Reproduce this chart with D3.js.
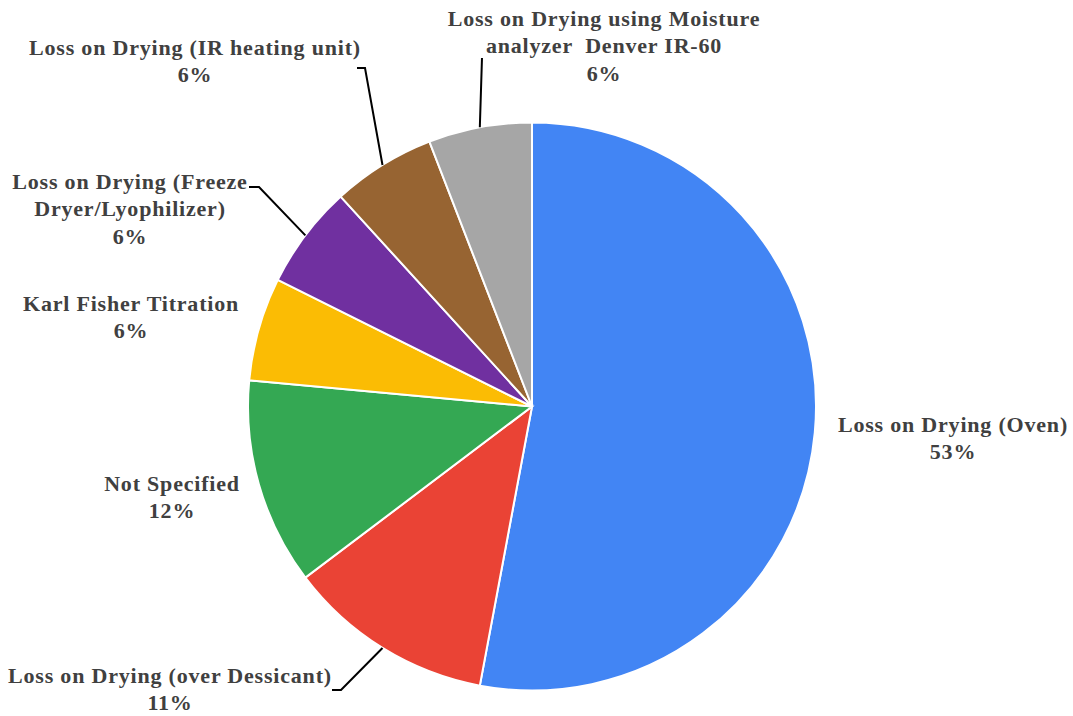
<!DOCTYPE html>
<html>
<head>
<meta charset="utf-8">
<script src="https://cdn.jsdelivr.net/npm/d3@7"></script>
<style>
  body { margin: 0; background: #fff; }
</style>
</head>
<body>
<div id="chart"></div>
<script>
// Datos
const categories = [
  "Loss on Drying (Oven)",
  "Loss on Drying (over Dessicant)",
  "Not Specified",
  "Karl Fisher Titration",
  "Loss on Drying (Freeze Dryer/Lyophilizer)",
  "Loss on Drying (IR heating unit)",
  "Loss on Drying using Moisture analyzer  Denver IR-60"
]
const counts = [9, 2, 2, 1, 1, 1, 1]
const pctLabels = ["53%", "11%", "12%", "6%", "6%", "6%", "6%"]
const colors = ["#4285f4", "#ea4335", "#34a853", "#fbbc04", "#7030a0", "#976432", "#a6a6a6"]

// Disposición de etiquetas (líneas, centro x, y de la primera línea, codo de la guía)
const labelLines = [
  ["Loss on Drying (Oven)"],
  ["Loss on Drying (over Dessicant)"],
  ["Not Specified"],
  ["Karl Fisher Titration"],
  ["Loss on Drying (Freeze", "Dryer/Lyophilizer)"],
  ["Loss on Drying (IR heating unit)"],
  ["Loss on Drying using Moisture", "analyzer  Denver IR-60"]
]
const labelX = [953, 170, 172, 131, 130, 195, 604]
const labelY = [424, 675, 483, 303, 181, 47, 18]
const leaders = [
  null,
  [[341, 690], [332, 690]],
  null,
  null,
  [[259, 187], [249, 187]],
  [[365, 68], [357, 68]],
  [[482, 58]]
]

const width = 1073, height = 716
const cx = 532, cy = 406.5, radius = 284
const lineH = 27.5

const svg = d3.select("#chart")
  .append("svg")
    .attr("width", width)
    .attr("height", height)

const g = svg.append("g")
  .attr("transform", `translate(${cx},${cy})`)

const pie = d3.pie().sort(null).value(d => d)
const arcs = pie(counts)
const arc = d3.arc().innerRadius(0).outerRadius(radius)

g.selectAll("path.slice")
  .data(arcs)
  .join("path")
    .attr("class", "slice")
    .attr("d", arc)
    .attr("fill", (d, i) => colors[i])
    .attr("stroke", "#fff")
    .attr("stroke-width", 2)

// Líneas guía
arcs.forEach((d, i) => {
  if (!leaders[i]) return
  const a = (d.startAngle + d.endAngle) / 2
  const start = [cx + radius * Math.sin(a), cy - radius * Math.cos(a)]
  svg.append("path")
    .attr("d", d3.line()([start, ...leaders[i]]))
    .attr("fill", "none")
    .attr("stroke", "#000")
    .attr("stroke-width", 2)
})

// Etiquetas
arcs.forEach((d, i) => {
  const lines = [...labelLines[i], pctLabels[i]]
  const t = svg.append("text")
    .attr("text-anchor", "middle")
    .attr("fill", "#404040")
    .attr("font-family", "'Liberation Serif', 'Times New Roman', serif")
    .attr("font-weight", "bold")
    .attr("font-size", 22)
    .attr("letter-spacing", 0.8)
    .style("white-space", "pre")
  lines.forEach((l, k) => {
    t.append("tspan")
      .attr("x", labelX[i])
      .attr("y", labelY[i] + k * lineH)
      .attr("dy", "0.35em")
      .text(l)
  })
})
</script>
</body>
</html>
